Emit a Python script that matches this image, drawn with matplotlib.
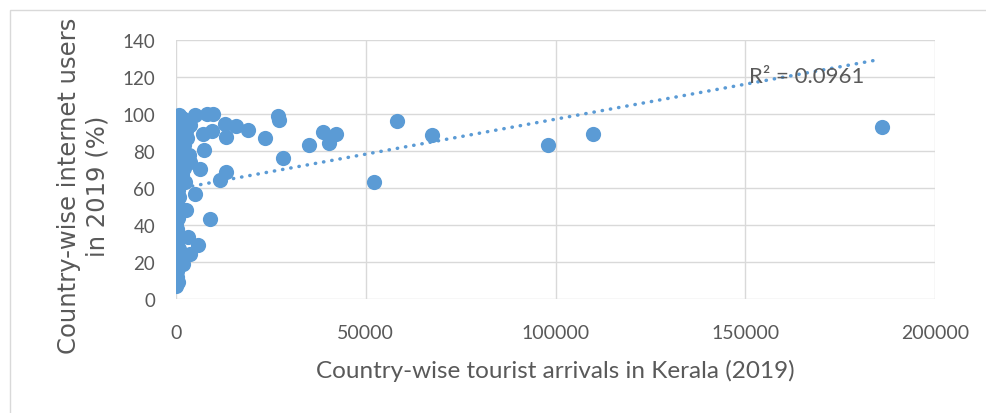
import numpy as np
import matplotlib.pyplot as plt
from matplotlib.patches import Rectangle

# tourist arrivals in Kerala (2019) and internet users (%) per country
arrivals = [
    186000, 109800, 97900, 67400, 58200, 52100, 42100, 40200, 38700, 35100,
    28100, 27200, 26900, 23500, 19000, 15800, 12900, 13300, 13200, 11600,
    9700, 8300, 5000, 7100, 9400, 7400, 6300, 5000, 8900, 5900,
    3200, 3700, 2700, 600,
    300, 900, 1500, 2200, 3300, 200, 1200, 2400, 3600, 100, 700, 400, 1800,
    250, 2600, 150, 1000, 600, 3000, 80, 1400, 300, 2200, 500, 3500, 150,
    1800, 700, 2800, 50, 1500, 3800, 400, 200, 2000, 900, 100, 1600, 300,
    700, 2300, 50, 500, 200, 900, 100, 400, 200, 600, 100, 300, 150, 500,
    100, 800, 200, 400, 100, 1800, 300, 200, 400, 100,
]
internet_users = [
    93, 89, 83, 88.5, 96.4, 63, 89.2, 84.2, 90.1, 83.2,
    76.2, 97, 99, 87.2, 91.3, 93.5, 94.5, 87.8, 68.6, 64.2,
    99.8, 99.8, 99.6, 89, 91, 80.3, 70.3, 56.8, 43.2, 29.2,
    33.5, 24.3, 48.3, 99,
    99, 99.5, 98, 96.5, 95.5, 97, 97, 96.5, 94, 95, 95, 93, 93,
    91, 91, 89, 89, 87, 87, 85, 85, 83, 83, 81, 78, 79,
    79, 77, 77, 75, 75, 74, 73, 71, 71, 69, 67, 67, 65,
    63, 63, 61, 59, 57, 55, 52, 50, 47, 44, 41, 38, 35, 32,
    30, 27, 24, 21, 18, 19, 15, 12, 9, 7,
]

# linear trendline (Excel fit) and its R squared
trend_intercept = 59.4
trend_slope = 3.78e-4
trend_x = [0, 184700]
r_squared = 0.0961

blue = '#5b9bd5'
grey = '#595959'

fig = plt.figure(figsize=(9.86, 4.14), dpi=100)
fig.patches.append(Rectangle((10 / 986, -0.1), 1.2, 1 - 11 / 414 + 0.1,
                             transform=fig.transFigure, fill=False,
                             edgecolor='#d9d9d9', lw=1))

ax = fig.add_axes([176 / 986, 1 - 300 / 414, (935 - 176) / 986, (300 - 41) / 414])
ax.scatter(arrivals, internet_users, s=120, color=blue, linewidths=0, zorder=3)

tx = np.array(trend_x)
ax.plot(tx, trend_intercept + trend_slope * tx, color=blue, lw=2.5,
        linestyle=(0, (0.1, 2.3)), dash_capstyle='round', zorder=4)
ax.text(150900, 120.5, 'R² = {}'.format(r_squared), color=grey, fontsize=16,
        family='Lato', va='center', ha='left', zorder=5)

ax.set_xlim(0, 200000)
ax.set_ylim(0, 140)
ax.set_xticks(np.arange(0, 200001, 50000))
ax.set_yticks(np.arange(0, 141, 20))
ax.grid(True, color='#d9d9d9', lw=1)
ax.set_axisbelow(True)
for s in ax.spines.values():
    s.set_visible(False)
ax.tick_params(length=0, labelcolor=grey)
ax.tick_params(axis='x', labelsize=14, pad=18)
ax.tick_params(axis='y', labelsize=13.5, pad=15)
for lab in ax.get_xticklabels() + ax.get_yticklabels():
    lab.set_family('Lato')

ax.set_xlabel('Country-wise tourist arrivals in Kerala (2019)', fontsize=17.5,
              color=grey, family='Lato', labelpad=13)
ax.set_ylabel('Country-wise internet users\nin 2019 (%)', fontsize=17.5,
              color=grey, family='DejaVu Sans', linespacing=1.2)
ax.yaxis.set_label_coords(-0.088, 0.44)

fig.savefig('out.png', dpi=100)
